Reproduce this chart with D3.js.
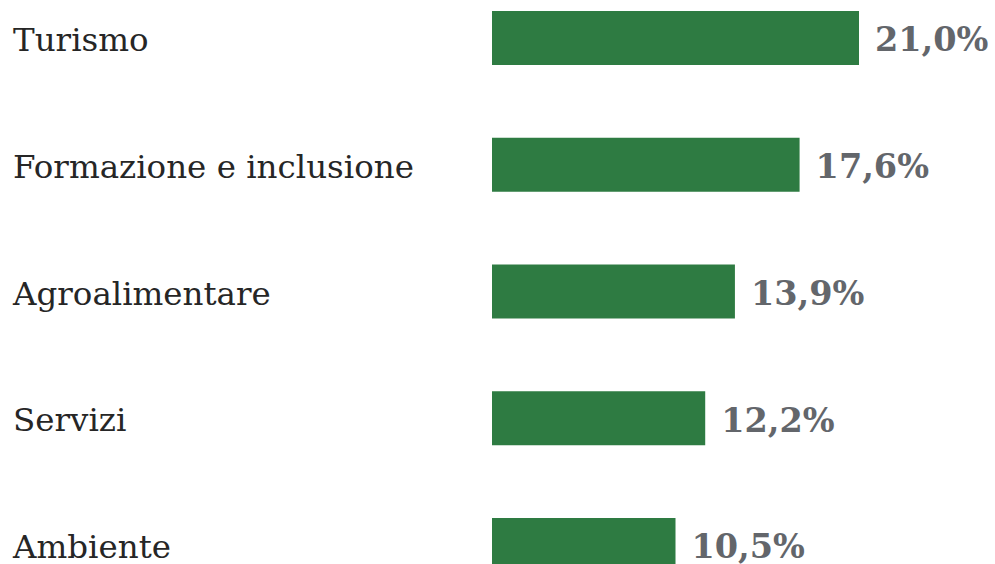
<!DOCTYPE html>
<meta charset="utf-8">
<script src="https://d3js.org/d3.v7.min.js"></script>
<style>
body { margin: 0; background: #fff; }
.cat { font-family: "DejaVu Serif", serif; font-size: 32.5px; fill: #262626; }
.val { font-family: "DejaVu Serif", serif; font-size: 33.5px; font-weight: bold; fill: #63666b; }
</style>
<body>
<script>
var categories = ["Turismo", "Formazione e inclusione", "Agroalimentare", "Servizi", "Ambiente"];
var values = [21.0, 17.6, 13.9, 12.2, 10.5];
var valueLabels = ["21,0%", "17,6%", "13,9%", "12,2%", "10,5%"];

var width = 995, height = 564;

var svg = d3.select("body").append("svg")
    .attr("width", width)
    .attr("height", height);

var x = d3.scaleLinear()
    .domain([0, 21])
    .range([492, 859]);

var y = d3.scaleBand()
    .domain(categories)
    .range([11, 572])
    .paddingInner(0.574)
    .paddingOuter(0);

var row = svg.selectAll(".row")
    .data(categories)
    .enter()
    .append("g")
    .attr("class", "row");

row.append("rect")
    .attr("x", x(0))
    .attr("y", function(d) { return y(d); })
    .attr("width", function(d, i) { return x(values[i]) - x(0); })
    .attr("height", y.bandwidth())
    .attr("fill", "#2e7b42");

row.append("text")
    .attr("class", "cat")
    .attr("x", 13)
    .attr("y", function(d) { return y(d) + y.bandwidth() / 2; })
    .attr("dy", "0.4em")
    .text(function(d) { return d; });

row.append("text")
    .attr("class", "val")
    .attr("x", function(d, i) { return x(values[i]) + 16; })
    .attr("y", function(d) { return y(d) + y.bandwidth() / 2; })
    .attr("dy", "0.4em")
    .text(function(d, i) { return valueLabels[i]; });
</script>
</body>
</html>
